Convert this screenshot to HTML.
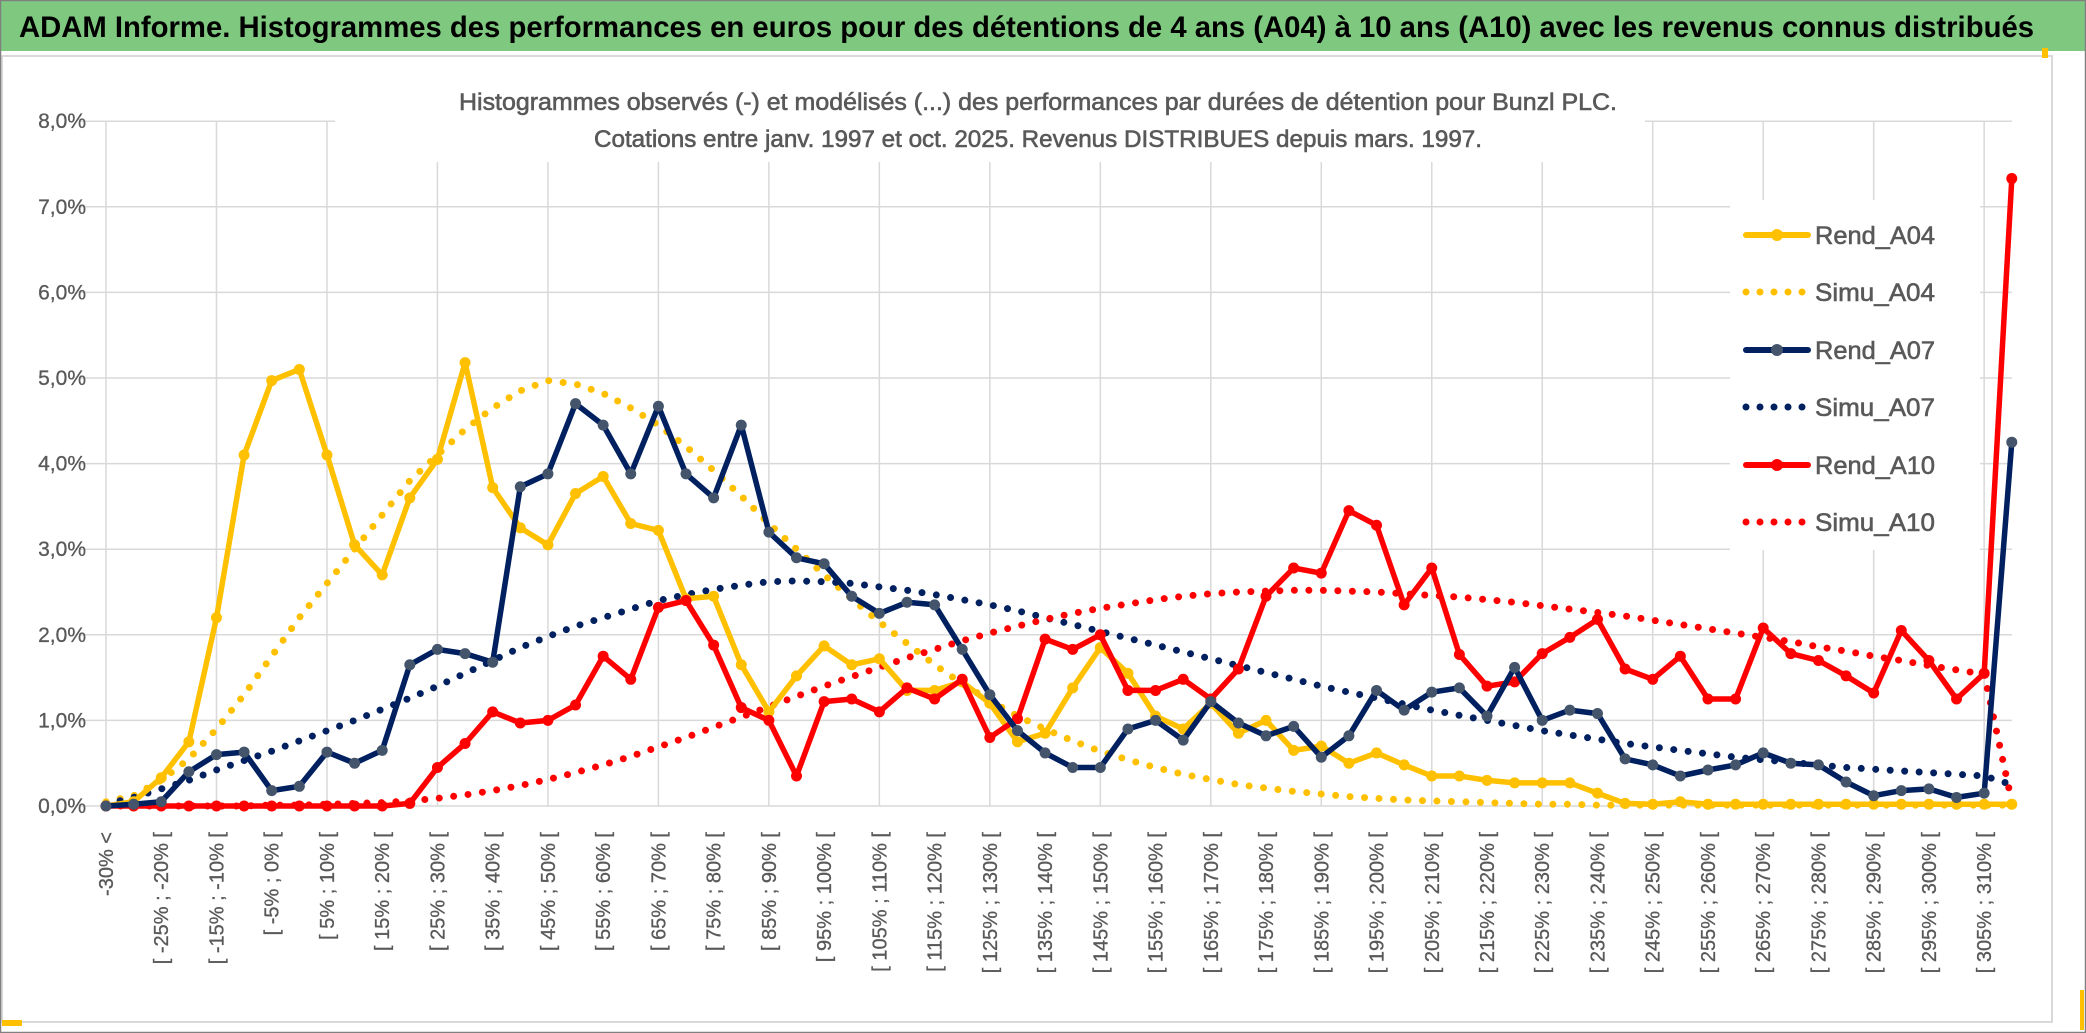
<!DOCTYPE html>
<html><head><meta charset="utf-8"><style>
html,body{margin:0;padding:0;background:#fff;}
svg{display:block;font-family:"Liberation Sans",sans-serif;}
</style></head><body>
<svg id="chart" width="2086" height="1033" viewBox="0 0 2086 1033" xmlns="http://www.w3.org/2000/svg">
<rect x="0" y="0" width="2086" height="1033" fill="#fff"/>
<rect x="1" y="1" width="2084" height="50" fill="#7ec97f"/>
<text x="19" y="37" font-size="30" font-weight="bold" fill="#000" textLength="2015" lengthAdjust="spacingAndGlyphs">ADAM Informe. Histogrammes des performances en euros pour des détentions de 4 ans (A04) à 10 ans (A10) avec les revenus connus distribués</text>
<rect x="2" y="56" width="2050" height="966" fill="none" stroke="#d9d9d9" stroke-width="2"/>
<rect x="2" y="1020" width="20" height="6" fill="#ffc000"/>
<rect x="2042" y="48" width="6" height="10" fill="#ffc000"/>
<rect x="2080" y="990" width="4" height="40" fill="#ffc000"/>
<rect x="0.5" y="0.5" width="2085" height="1032" fill="none" stroke="#808080" stroke-width="1.5"/>
<g id="grid"></g>
<rect x="335" y="62" width="1310" height="100" fill="#fff"/>
<text x="1038" y="110" font-size="24" fill="#595959" stroke="#595959" stroke-width="0.6" text-anchor="middle" textLength="1158" lengthAdjust="spacingAndGlyphs">Histogrammes observés (-) et modélisés (...) des performances par durées de détention pour Bunzl PLC.</text>
<text x="1038" y="147" font-size="24" fill="#595959" stroke="#595959" stroke-width="0.6" text-anchor="middle" textLength="888" lengthAdjust="spacingAndGlyphs">Cotations entre janv. 1997 et oct. 2025. Revenus DISTRIBUES depuis mars. 1997.</text>
<g id="yaxis"></g>
<g id="xaxis"></g>
<g id="series"></g>
<g id="legend"></g>
</svg>
<script>
const categories = [];
const binStarts = [];
for (let s = -30; s <= 310; s += 5) binStarts.push(s);
const yTicks = [0,1,2,3,4,5,6,7,8];
const yTickLabels = ["0,0%","1,0%","2,0%","3,0%","4,0%","5,0%","6,0%","7,0%","8,0%"];
const rendA04 = [0,0.05,0.33,0.75,2.2,4.1,4.97,5.1,4.1,3.05,2.7,3.6,4.05,5.18,3.72,3.25,3.05,3.65,3.85,3.3,3.22,2.42,2.45,1.65,1.1,1.52,1.87,1.65,1.72,1.35,1.35,1.45,1.2,0.75,0.85,1.38,1.85,1.55,1.05,0.9,1.2,0.85,1.0,0.65,0.7,0.5,0.62,0.48,0.35,0.35,0.3,0.27,0.27,0.27,0.15,0.03,0.02,0.05,0.02,0.02,0.02,0.02,0.02,0.02,0.02,0.02,0.02,0.02,0.02,0.02];
const simuA04 = [0.05,0.12,0.3,0.55,0.9,1.3,1.75,2.2,2.6,3.0,3.4,3.8,4.1,4.4,4.65,4.85,4.97,4.93,4.82,4.65,4.45,4.2,3.92,3.62,3.3,3.0,2.7,2.42,2.15,1.9,1.65,1.43,1.23,1.05,0.9,0.76,0.64,0.54,0.45,0.37,0.31,0.25,0.21,0.17,0.14,0.11,0.09,0.07,0.06,0.05,0.04,0.03,0.02,0.02,0.01,0.01,0.01,0.01,0.01,0.01,0.01,0.01,0.01,0.01,0.01,0.01,0.01,0.01,0.01,0.01];
const rendA07 = [0,0.02,0.05,0.4,0.6,0.63,0.18,0.23,0.63,0.5,0.65,1.65,1.83,1.78,1.68,3.73,3.88,4.7,4.45,3.88,4.67,3.88,3.6,4.45,3.2,2.9,2.83,2.45,2.25,2.38,2.35,1.83,1.3,0.88,0.62,0.45,0.45,0.9,1.0,0.77,1.22,0.97,0.82,0.93,0.57,0.82,1.35,1.12,1.33,1.38,1.05,1.62,1.0,1.12,1.08,0.55,0.48,0.35,0.42,0.48,0.62,0.5,0.48,0.28,0.12,0.18,0.2,0.1,0.15,4.25];
const simuA07 = [0.02,0.1,0.2,0.3,0.42,0.53,0.64,0.76,0.88,1.0,1.13,1.26,1.4,1.55,1.7,1.85,1.98,2.1,2.2,2.3,2.4,2.47,2.53,2.58,2.62,2.63,2.62,2.6,2.56,2.52,2.47,2.41,2.35,2.28,2.2,2.12,2.04,1.96,1.88,1.8,1.72,1.64,1.56,1.48,1.4,1.33,1.26,1.19,1.12,1.06,1.0,0.94,0.88,0.83,0.78,0.73,0.69,0.65,0.61,0.57,0.54,0.51,0.48,0.45,0.43,0.41,0.39,0.37,0.35,0.25];
const rendA10 = [0,0,0,0,0,0,0,0,0,0,0,0.03,0.45,0.73,1.1,0.97,1.0,1.18,1.75,1.48,2.32,2.4,1.88,1.15,1.0,0.35,1.22,1.25,1.1,1.38,1.25,1.48,0.8,1.02,1.95,1.83,2.0,1.35,1.35,1.48,1.25,1.6,2.45,2.78,2.72,3.45,3.28,2.35,2.78,1.77,1.4,1.45,1.78,1.97,2.18,1.6,1.48,1.75,1.25,1.25,2.08,1.78,1.7,1.52,1.32,2.05,1.7,1.25,1.55,7.33];
const simuA10 = [0,0,0,0,0,0,0.01,0.01,0.02,0.03,0.04,0.06,0.09,0.13,0.18,0.24,0.31,0.39,0.48,0.58,0.69,0.8,0.92,1.04,1.16,1.28,1.4,1.51,1.62,1.73,1.83,1.93,2.02,2.1,2.18,2.25,2.31,2.36,2.41,2.45,2.48,2.5,2.51,2.52,2.52,2.51,2.5,2.48,2.46,2.44,2.41,2.38,2.34,2.3,2.26,2.22,2.17,2.12,2.07,2.02,1.97,1.92,1.86,1.81,1.75,1.7,1.64,1.59,1.54,0.05];

categories.push("-30% <");
for (let k = 0; k < binStarts.length; k++) categories.push("[ " + binStarts[k] + "% ; " + (binStarts[k] + 5) + "% [");

const NS = "http://www.w3.org/2000/svg";
const X0 = 106, DX = 27.62, Y0 = 806, DY = 85.6;
function xs(i){ return X0 + DX * i; }
function ys(v){ return Y0 - DY * v; }
function mk(tag, attrs, parent){ const e = document.createElementNS(NS, tag); for (const k in attrs) e.setAttribute(k, attrs[k]); parent.appendChild(e); return e; }

const grid = document.getElementById('grid');
for (let t = 1; t < yTicks.length; t++) {
  const l = mk('line', {x1: 79, x2: 2012, y1: ys(yTicks[t]), y2: ys(yTicks[t]), stroke: '#d9d9d9', 'stroke-width': 1.5}, grid);
  
  
}
for (let i = 0; i < categories.length; i += 4) {
  const l = mk('line', {x1: xs(i), x2: xs(i), y1: ys(8), y2: ys(0), stroke: '#d9d9d9', 'stroke-width': 1.5}, grid);
  
  
}
const base = mk('line', {x1: 79, x2: 2012, y1: ys(0), y2: ys(0), stroke: '#d9d9d9', 'stroke-width': 1.5}, grid);



const yaxis = document.getElementById('yaxis');
for (let t = 0; t < yTicks.length; t++) {
  const tx = mk('text', {x: 86, y: ys(yTicks[t]) + 7, 'font-size': 21, fill: '#595959', stroke: '#595959', 'stroke-width': 0.3, 'text-anchor': 'end'}, yaxis);
  tx.textContent = yTickLabels[t];
  
  
}
const xaxis = document.getElementById('xaxis');
for (let i = 0; i < categories.length; i += 2) {
  const cx = xs(i) + 7, cy = 832;
  const tx = mk('text', {x: cx, y: cy, 'font-size': 20, fill: '#595959', stroke: '#595959', 'stroke-width': 0.3, 'text-anchor': 'end', transform: 'rotate(-90 ' + cx + ' ' + cy + ')'}, xaxis);
  tx.textContent = categories[i];
  
  
}

const series = document.getElementById('series');
function pts(arr){ return arr.map((v, i) => xs(i).toFixed(1) + ',' + ys(v).toFixed(1)).join(' '); }
function dotted(arr, color, name){
  const p = mk('polyline', {points: pts(arr), fill: 'none', stroke: color, 'stroke-width': 7, 'stroke-linecap': 'round', 'stroke-dasharray': '0 14.5'}, series);
  
  
}
function solid(arr, color, mcolor, name){
  const g = mk('g', {}, series);
  
  
  const p = mk('polyline', {points: pts(arr), fill: 'none', stroke: color, 'stroke-width': 5.5, 'stroke-linejoin': 'round'}, g);
  
  
  arr.forEach((v, i) => {
    const c = mk('circle', {cx: xs(i), cy: ys(v), r: 5.5, fill: mcolor}, g);
    
    
  });
}
dotted(simuA04, '#ffc000', 'simu-a04-series');
dotted(simuA07, '#002060', 'simu-a07-series');
dotted(simuA10, '#ff0000', 'simu-a10-series');
solid(rendA04, '#ffc000', '#ffc000', 'rend-a04-series');
solid(rendA10, '#ff0000', '#ff0000', 'rend-a10-series');
solid(rendA07, '#002060', '#44546a', 'rend-a07-series');

const legend = document.getElementById('legend');
const lbg = mk('rect', {x: 1730, y: 200, width: 250, height: 350, fill: '#fff'}, legend);


const legNames = ["Rend_A04","Simu_A04","Rend_A07","Simu_A07","Rend_A10","Simu_A10"];
const legColors = ["#ffc000","#ffc000","#002060","#002060","#ff0000","#ff0000"];
const legMarker = ["#ffc000","","#44546a","","#ff0000",""];
const legY = [235,292,350,407,465,522];
for (let k = 0; k < legNames.length; k++) {
  const y = legY[k];
  if (k % 2 === 0) {
    const l = mk('line', {x1: 1746, x2: 1808, y1: y, y2: y, stroke: legColors[k], 'stroke-width': 6, 'stroke-linecap': 'round'}, legend);
    
    
    const c = mk('circle', {cx: 1777, cy: y, r: 6, fill: legMarker[k]}, legend);
    
    
  } else {
    const l = mk('line', {x1: 1746, x2: 1808, y1: y, y2: y, stroke: legColors[k], 'stroke-width': 7, 'stroke-linecap': 'round', 'stroke-dasharray': '0 14'}, legend);
    
    
  }
  const t = mk('text', {x: 1815, y: y + 9, 'font-size': 25, fill: '#595959', stroke: '#595959', 'stroke-width': 0.6, textLength: 120, lengthAdjust: 'spacingAndGlyphs'}, legend);
  t.textContent = legNames[k];
  
  
}
</script>
</body></html>
